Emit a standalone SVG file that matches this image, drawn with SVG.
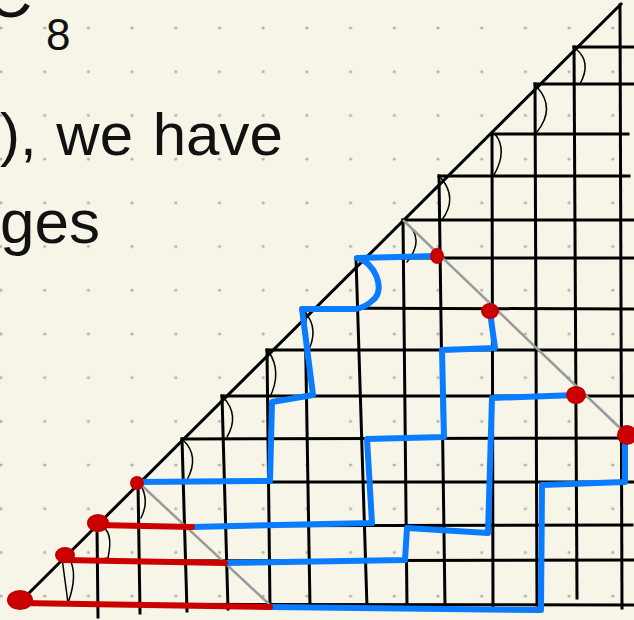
<svg xmlns="http://www.w3.org/2000/svg" width="634" height="620" viewBox="0 0 634 620">
  <defs>
    <pattern id="dots" x="-20.85" y="6.15" width="43.7" height="43.7" patternUnits="userSpaceOnUse">
      <circle cx="21.85" cy="21.85" r="1.6" fill="#b4b2a8"/>
    </pattern>
    <style>
      .txt { font-family: "Liberation Sans", "DejaVu Sans", sans-serif; fill: #111; }
      .grid { stroke: #000; stroke-width: 3; fill: none; stroke-linecap: square; }
      .thin { stroke: #000; stroke-width: 1.5; fill: none; stroke-linecap: round; }
      .gray { stroke: #9a9a9a; stroke-width: 2.5; fill: none; }
      .blue { stroke: #0a7cff; stroke-width: 6; fill: none; stroke-linecap: round; stroke-linejoin: round; }
      .red { stroke: #cc0000; stroke-width: 6; fill: none; stroke-linecap: round; }
      .dot { fill: #cc0000; stroke: #c00000; stroke-width: 2; }
    </style>
  </defs>

  <rect width="634" height="620" fill="#f7f5e8"/>
  <rect width="634" height="620" fill="url(#dots)"/>

  <g id="text">
    <text class="txt" x="-14" y="17" font-size="64">C</text>
    <text class="txt" x="46" y="50" font-size="44">8</text>
    <text class="txt" x="0" y="155" font-size="60" word-spacing="3">), we have</text>
    <text class="txt" x="0" y="243" font-size="62">ges</text>
  </g>

  <g id="grid">
    <line class="grid" x1="18" y1="604" x2="621" y2="4"/>
    <!-- verticals -->
    <line class="grid" x1="620" y1="5" x2="622" y2="608"/>
    <line class="grid" x1="574" y1="47" x2="577" y2="598"/>
    <line class="grid" x1="535" y1="84" x2="537" y2="605"/>
    <line class="grid" x1="492" y1="134" x2="493" y2="606"/>
    <line class="grid" x1="439" y1="176" x2="445" y2="606"/>
    <line class="grid" x1="403" y1="220" x2="407" y2="607"/>
    <line class="grid" x1="356" y1="258" x2="367" y2="607"/>
    <line class="grid" x1="305" y1="308" x2="310" y2="607"/>
    <line class="grid" x1="267" y1="350" x2="270" y2="608"/>
    <line class="grid" x1="222" y1="396" x2="228" y2="609"/>
    <line class="grid" x1="182" y1="439" x2="187" y2="611"/>
    <line class="grid" x1="138" y1="482" x2="140" y2="613"/>
    <line class="grid" x1="97" y1="526" x2="98" y2="617"/>
    <!-- horizontals -->
    <line class="grid" x1="574" y1="47" x2="634" y2="47"/>
    <line class="grid" x1="535" y1="84" x2="634" y2="84"/>
    <line class="grid" x1="492" y1="134" x2="628" y2="134"/>
    <line class="grid" x1="439" y1="176" x2="629" y2="176"/>
    <line class="grid" x1="403" y1="220" x2="634" y2="220"/>
    <line class="grid" x1="356" y1="258" x2="634" y2="258"/>
    <line class="grid" x1="302" y1="308" x2="634" y2="309"/>
    <line class="grid" x1="267" y1="350" x2="634" y2="350"/>
    <line class="grid" x1="222" y1="396" x2="634" y2="396"/>
    <line class="grid" x1="182" y1="439" x2="634" y2="438"/>
    <line class="grid" x1="138" y1="482" x2="634" y2="482"/>
    <line class="grid" x1="97" y1="526" x2="632" y2="525"/>
    <line class="grid" x1="63" y1="561" x2="634" y2="560"/>
    <line class="grid" x1="20" y1="604" x2="634" y2="605"/>
    <!-- thin arcs at corners -->
    <path class="thin" d="M576,49 Q592,62 580,84"/>
    <path class="thin" d="M537,87 Q556,108 537,132"/>
    <path class="thin" d="M495,134 Q508,150 494,175"/>
    <path class="thin" d="M441,178 Q458,198 442,220"/>
    <path class="thin" d="M405,222 Q426,238 407,262"/>
    <path class="thin" d="M305,312 Q320,330 307,353"/>
    <path class="thin" d="M269,352 Q282,372 270,397"/>
    <path class="thin" d="M223,397 Q240,415 227,437"/>
    <path class="thin" d="M183,440 Q200,456 187,480"/>
    <path class="thin" d="M140,484 Q150,500 141,518"/>
    <path class="thin" d="M100,526 Q114,530 108,558 L102,559"/>
    <path class="thin" d="M62,558 L68,603 Q78,575 70,560"/>
  </g>

  <g id="diagonals">
    <line class="gray" x1="403" y1="220" x2="620" y2="428"/>
    <line class="gray" x1="138" y1="482" x2="270" y2="605"/>
  </g>

  <g id="paths">
    <path class="blue" d="M437,256 L357,258 C375,262 386,290 373,300 C367,306 362,308 355,309 L302,309 L313,395 L272,402 L270,481 L138,482"/>
    <path class="blue" d="M490,312 L495,348 L442,350 L444,437 L367,439 L372,523 L192,527"/>
    <path class="blue" d="M577,395 L492,398 L488,533 L407,528 L405,560 L225,563"/>
    <path class="blue" d="M625,437 L625,482 L542,485 L541,610 L270,607"/>
    <path class="red" d="M192,527 L97,525"/>
    <path class="red" d="M225,563 L63,560"/>
    <path class="red" d="M270,607 L20,603"/>
  </g>

  <g id="points">
    <ellipse class="dot" cx="437" cy="256" rx="6" ry="7"/>
    <ellipse class="dot" cx="490" cy="311" rx="8" ry="7"/>
    <ellipse class="dot" cx="576" cy="395" rx="9" ry="8"/>
    <ellipse class="dot" cx="627" cy="435" rx="9" ry="9"/>
    <ellipse class="dot" cx="137" cy="483" rx="6" ry="6"/>
    <ellipse class="dot" cx="98" cy="523" rx="10" ry="8"/>
    <ellipse class="dot" cx="65" cy="555" rx="9" ry="7"/>
    <ellipse class="dot" cx="20" cy="600" rx="12" ry="9"/>
  </g>
</svg>
